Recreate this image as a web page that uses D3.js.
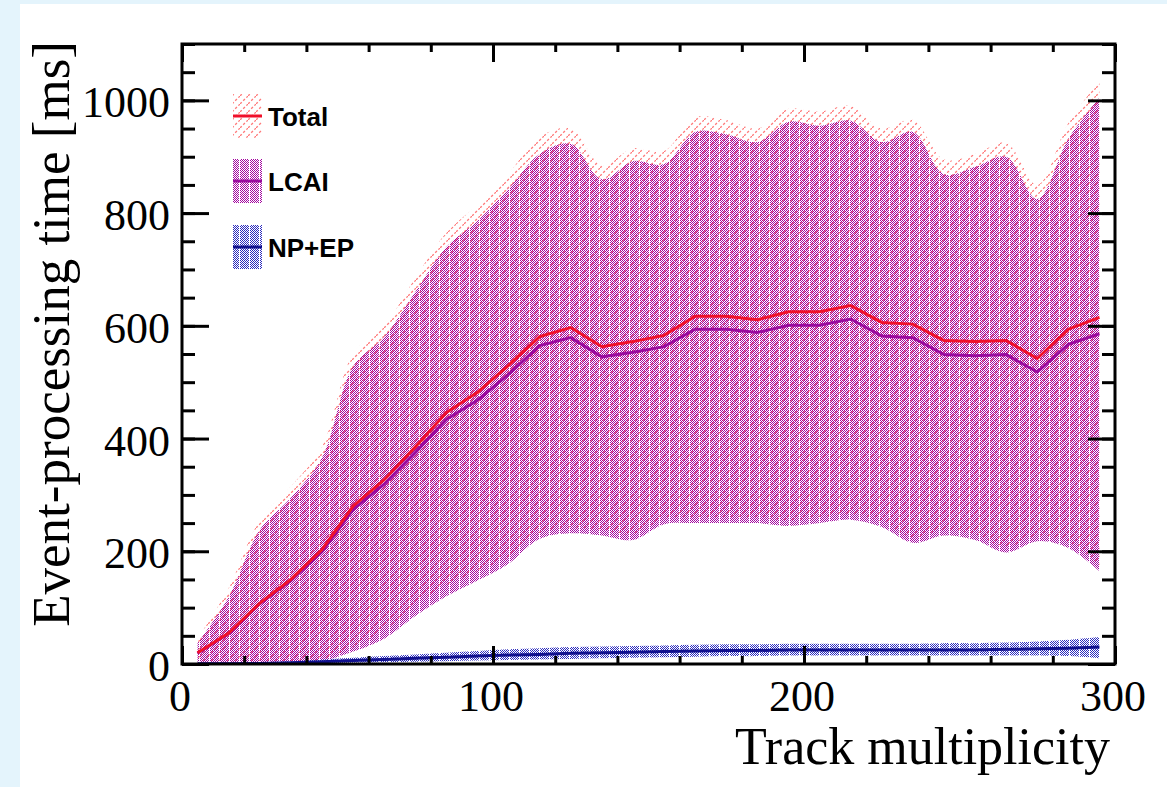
<!DOCTYPE html>
<html>
<head>
<meta charset="utf-8">
<script src="https://cdn.jsdelivr.net/npm/d3@7"></script>
<style>
  body { margin: 0; background: #e4f4fc; }
  svg { display: block; }
</style>
</head>
<body>
<div class="chart"></div>
<script>
// bin centres of track multiplicity
var trackBins = [5, 15, 25, 35, 45, 55, 65, 75, 85, 95, 105, 115, 125, 135, 145,
                 155, 165, 175, 185, 195, 205, 215, 225, 235, 245, 255, 265, 275, 285, 295];

// mean event-processing time [ms]
var totalMean = [20, 55, 108, 150, 203, 280, 327, 385, 446, 482, 530, 581, 597, 563, 572,
                 583, 617, 617, 611, 625, 625, 636, 606, 603, 574, 572, 574, 542, 594, 615];
var lcaiMean  = [19, 54, 107, 148, 199, 274, 319, 375, 434, 468, 514, 565, 579, 545, 553,
                 563, 594, 594, 588, 601, 601, 612, 582, 579, 549, 547, 549, 518, 567, 586];
var npepMean  = [0.5, 0.5, 1, 2, 4, 6, 8, 10, 12, 14, 16, 17, 19, 20, 21,
                 22, 23, 24, 24, 25, 25, 25, 25, 25, 25, 25, 26, 27, 28, 30];

// spread bands (upper / lower edge)
var totalUp = [45, 135, 255, 315, 385, 550, 600, 685, 765, 815, 870, 935, 950, 885, 915,
               910, 970, 965, 950, 985, 980, 990, 950, 965, 895, 905, 925, 850, 960, 1035];
var totalLo = [0, 0, 0, 0, 8, 30, 60, 105, 140, 165, 190, 232, 242, 238, 230,
               258, 260, 260, 260, 255, 260, 266, 253, 225, 238, 230, 208, 228, 216, 175];
var lcaiUp  = [37, 119, 238, 295, 366, 528, 580, 660, 740, 786, 843, 905, 923, 860, 892,
               887, 944, 940, 926, 962, 955, 964, 926, 944, 869, 882, 900, 825, 932, 1005];
var lcaiLo  = [0, 0, 0, 0, 5, 22, 45, 85, 120, 148, 178, 222, 232, 228, 220,
               248, 250, 250, 250, 245, 250, 256, 243, 215, 228, 220, 198, 218, 206, 165];
var npepUp  = [2, 2, 3, 5, 8, 11, 14, 17, 20, 23, 26, 28, 30, 31, 32,
               33, 34, 35, 35, 36, 36, 36, 36, 36, 37, 37, 38, 40, 43, 48];
var npepLo  = [0, 0, 0, 0, 1, 2, 3, 4, 5, 6, 7, 8, 9, 10, 11,
               12, 13, 14, 14, 15, 15, 15, 15, 15, 15, 15, 15, 15, 14, 10];

var yMajorTicks = [0, 200, 400, 600, 800, 1000];
var xMajorTicks = [0, 100, 200, 300];

var legendNames = ["Total", "LCAI", "NP+EP"];

// -------- set up -----------
var svgWidth = 1147;
var svgHeight = 783;

var svg = d3.select(".chart")
  .append("svg")
  .attr("width", svgWidth)
  .attr("height", svgHeight)
  .style("margin-left", "20px")
  .style("margin-top", "4px")
  .style("background", "white");

// svg is shifted by (20,4) so subtract that from page coordinates
var g = svg.append("g").attr("transform", "translate(-20,-4)");

var xScale = d3.scaleLinear().domain([0, 300]).range([182, 1115]);
var yScale = d3.scaleLinear().domain([0, 1100]).range([664, 44]);

// -------- fill patterns -----------
var defs = svg.append("defs");

function checker(id, color) {
  var p = defs.append("pattern")
    .attr("id", id)
    .attr("patternUnits", "userSpaceOnUse")
    .attr("width", 10).attr("height", 2);
  [0, 2, 4, 6, 8].forEach(function(x) {
    p.append("rect").attr("x", x).attr("y", 0).attr("width", 1).attr("height", 1).attr("fill", color);
  });
  [1, 3, 5, 7].forEach(function(x) {
    p.append("rect").attr("x", x).attr("y", 1).attr("width", 1).attr("height", 1).attr("fill", color);
  });
}
checker("lcaiFill", "#a3069f");
checker("npepFill", "#2b2bbd");

var hatch = defs.append("pattern")
  .attr("id", "totalFill")
  .attr("patternUnits", "userSpaceOnUse")
  .attr("width", 8).attr("height", 8);
hatch.append("line")
  .attr("x1", 0).attr("y1", 8).attr("x2", 8).attr("y2", 0)
  .attr("stroke", "#ff4d4d")
  .attr("stroke-opacity", 0.75)
  .attr("stroke-width", 1.3)
  .attr("stroke-dasharray", "2.5 2");

defs.append("clipPath").attr("id", "plotClip")
  .append("rect")
  .attr("x", 182).attr("y", 44).attr("width", 933).attr("height", 620);

// -------- bands and lines -----------
function band(up, lo) {
  return d3.area()
    .x(function(d, i) { return xScale(trackBins[i]); })
    .y0(function(d, i) { return yScale(lo[i]); })
    .y1(function(d, i) { return yScale(up[i]); })
    .curve(d3.curveCatmullRom)(trackBins);
}

function meanLine(vals) {
  return d3.line()
    .x(function(d, i) { return xScale(trackBins[i]); })
    .y(function(d) { return yScale(d); })(vals);
}

var plot = g.append("g").attr("clip-path", "url(#plotClip)");

plot.append("path").attr("d", band(totalUp, totalLo)).attr("fill", "url(#totalFill)");
plot.append("path").attr("d", band(lcaiUp, lcaiLo)).attr("fill", "url(#lcaiFill)");
plot.append("path").attr("d", band(npepUp, npepLo)).attr("fill", "url(#npepFill)");

plot.append("path").attr("d", meanLine(lcaiMean))
  .attr("fill", "none").attr("stroke", "#9a0a9e").attr("stroke-width", 3);
plot.append("path").attr("d", meanLine(totalMean))
  .attr("fill", "none").attr("stroke", "#f0102a").attr("stroke-width", 3);
plot.append("path").attr("d", meanLine(npepMean))
  .attr("fill", "none").attr("stroke", "#10108e").attr("stroke-width", 3);

// -------- axes (ROOT style, ticks inside on all four sides) -----------
var yAxisL = d3.axisRight(yScale).tickValues(d3.range(0, 1101, 50)).tickFormat("")
  .tickSizeOuter(0)
  .tickSizeInner(13);
var yAxisR = d3.axisLeft(yScale).tickValues(d3.range(0, 1101, 50)).tickFormat("")
  .tickSizeOuter(0)
  .tickSizeInner(13);
var xAxisB = d3.axisTop(xScale).tickValues(d3.range(0, 301, 20)).tickFormat("")
  .tickSizeOuter(0)
  .tickSizeInner(8);
var xAxisT = d3.axisBottom(xScale).tickValues(d3.range(0, 301, 20)).tickFormat("")
  .tickSizeOuter(0)
  .tickSizeInner(8);

function styleAxis(sel) {
  sel.select(".domain").remove();
  sel.selectAll("line").attr("stroke", "black").attr("stroke-width", 3);
}

g.append("g").attr("transform", "translate(182,0)").call(yAxisL).call(styleAxis);
g.append("g").attr("transform", "translate(1115,0)").call(yAxisR).call(styleAxis);
g.append("g").attr("transform", "translate(0,664)").call(xAxisB).call(styleAxis);
g.append("g").attr("transform", "translate(0,44)").call(xAxisT).call(styleAxis);

// major ticks
g.append("g").attr("transform", "translate(182,0)")
  .call(d3.axisRight(yScale).tickValues(yMajorTicks).tickFormat("").tickSizeOuter(0).tickSizeInner(27))
  .call(styleAxis);
g.append("g").attr("transform", "translate(1115,0)")
  .call(d3.axisLeft(yScale).tickValues(yMajorTicks).tickFormat("").tickSizeOuter(0).tickSizeInner(27))
  .call(styleAxis);
g.append("g").attr("transform", "translate(0,664)")
  .call(d3.axisTop(xScale).tickValues(xMajorTicks).tickFormat("").tickSizeOuter(0).tickSizeInner(18))
  .call(styleAxis);
g.append("g").attr("transform", "translate(0,44)")
  .call(d3.axisBottom(xScale).tickValues(xMajorTicks).tickFormat("").tickSizeOuter(0).tickSizeInner(18))
  .call(styleAxis);

// frame
g.append("rect")
  .attr("x", 182).attr("y", 44).attr("width", 933).attr("height", 620)
  .attr("fill", "none").attr("stroke", "black").attr("stroke-width", 3);

// tick labels
var serif = "'Liberation Serif', 'Times New Roman', serif";
g.selectAll(".ylab").data(yMajorTicks).enter().append("text")
  .attr("x", 170)
  .attr("y", function(d) { return yScale(d) + 17; })
  .attr("text-anchor", "end")
  .attr("font-family", serif).attr("font-size", 44)
  .text(function(d) { return d; });

g.selectAll(".xlab").data(xMajorTicks).enter().append("text")
  .attr("x", function(d) { return xScale(d) - 2; })
  .attr("y", 711)
  .attr("text-anchor", "middle")
  .attr("font-family", serif).attr("font-size", 44)
  .text(function(d) { return d; });

// axis titles
g.append("text")
  .attr("x", 1110).attr("y", 764)
  .attr("text-anchor", "end")
  .attr("font-family", serif).attr("font-size", 52)
  .text("Track multiplicity");

g.append("text")
  .attr("transform", "translate(69,41) rotate(-90)")
  .attr("text-anchor", "end")
  .attr("font-family", serif).attr("font-size", 53)
  .text("Event-processing time [ms]");

// -------- legend -----------
var legendFills = ["url(#totalFill)", "url(#lcaiFill)", "url(#npepFill)"];
var legendLines = ["#f0102a", "#9a0a9e", "#10108e"];
var legendY = [116, 181, 247];

var legend = g.append("g");
legendNames.forEach(function(name, i) {
  legend.append("rect")
    .attr("x", 233).attr("y", legendY[i] - 22).attr("width", 29).attr("height", 44)
    .attr("fill", legendFills[i]);
  legend.append("line")
    .attr("x1", 233).attr("x2", 262)
    .attr("y1", legendY[i]).attr("y2", legendY[i])
    .attr("stroke", legendLines[i]).attr("stroke-width", 3);
  legend.append("text")
    .attr("x", 268).attr("y", legendY[i] + 10)
    .attr("font-family", "'Liberation Sans', Arial, sans-serif")
    .attr("font-weight", "bold").attr("font-size", 26)
    .text(name);
});
</script>
</body>
</html>
